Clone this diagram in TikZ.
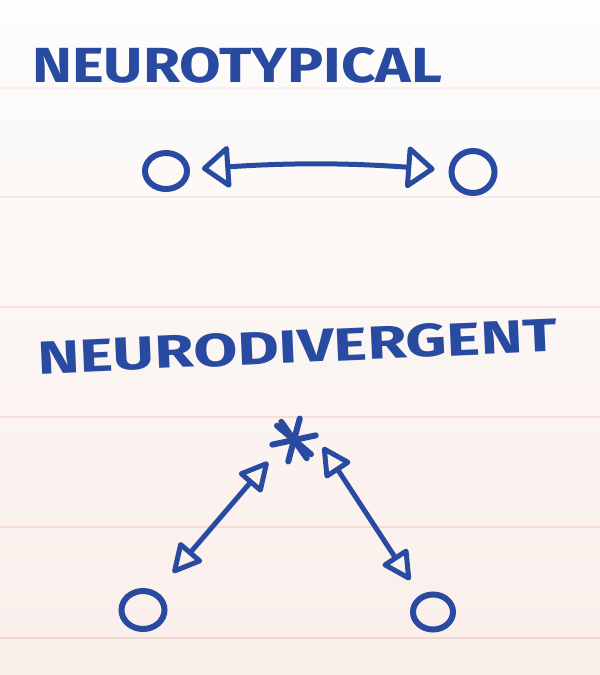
\documentclass[tikz,border=0pt]{standalone}
\usepackage{fontspec}
\setmainfont{Fira Sans}
\usepackage{graphicx}
\usetikzlibrary{arrows.meta,shapes.geometric,calc}
\definecolor{ink}{RGB}{40,74,160}
\definecolor{paperTop}{RGB}{253,253,252}
\definecolor{paperBot}{RGB}{250,238,234}
\definecolor{rulecol}{RGB}{244,214,210}
\tikzset{
  hd/.tip={Triangle[open,length=32pt,width=32pt,round]},
  hdbig/.tip={Triangle[open,length=30pt,width=46pt,round]},
}
\begin{document}
\begin{tikzpicture}[x=1pt,y=-1pt,
  pen/.style={draw=ink,line width=6pt,line cap=round,line join=round},
  ring/.style={ellipse,draw=ink,line width=6pt,inner sep=0pt},
  label/.style={anchor=south west,inner sep=0pt,text=ink,font=\bfseries},
  ruled/.style={draw=rulecol,line width=2pt}]
\useasboundingbox (0,0) rectangle (600,675);
\shade[top color=paperTop,bottom color=paperBot] (0,0) rectangle (600,675);
\foreach \yy/\op in {88/0.25,197/0.45,307/0.7,417/0.8,527/0.85,638/0.9}
  \draw[ruled,draw opacity=\op] (0,\yy) -- (600,\yy);

% titles
\node[label] (t1) at (32,84) {\resizebox{410pt}{35pt}{NEUROTYPICAL}};
\node[label,rotate=2.5] (t2) at (38,375) {\resizebox{520pt}{33pt}{NEURODIVERGENT}};

% neurotypical pair
\node[ring,minimum width=42pt,minimum height=36pt] (ntA) at (166,171) {};
\node[ring,minimum width=43pt,minimum height=42pt] (ntB) at (473,172) {};
\draw[pen,line width=5pt,hdbig-hdbig,shorten <=12pt,shorten >=14pt] (ntA) to[bend left=4] (ntB);

% neurodivergent
\node[circle,minimum size=44pt,inner sep=0pt] (star) at (294,440) {};
\foreach \a/\b in {75/255,12/192,320/140,125/305}
  \draw[pen,line width=6pt] (star.\a) -- (star.\b);
\node[ring,minimum width=43pt,minimum height=38pt] (lc) at (143,610) {};
\node[ring,minimum width=40pt,minimum height=35pt] (rc) at (433,612) {};
\draw[pen,line width=5pt,hd-hd,shorten <=12pt,shorten >=25pt] (star.215) -- (lc.53);
\draw[pen,line width=5pt,hd-hd,shorten <=13pt,shorten >=18pt] (star.10) -- (rc.128);
\end{tikzpicture}
\end{document}
